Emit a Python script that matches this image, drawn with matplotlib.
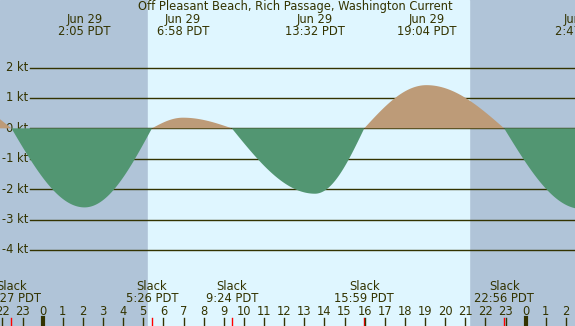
import numpy as np
from matplotlib import pyplot as plt
import matplotlib.transforms as mtransforms

# current events (hours from midnight Jun 29, speed in knots)
ev_time = [-5.7, -1.55, 2.08, 5.43, 6.97, 9.40, 13.53, 15.98, 19.07, 22.93, 26.78]
ev_speed = [1.4, 0.0, -2.6, 0.0, 0.35, 0.0, -2.15, 0.0, 1.42, 0.0, -2.65]

max_time = [2.08, 6.97, 13.53, 19.07, 26.78]
max_label = ["2:05 PDT", "6:58 PDT", "13:32 PDT", "19:04 PDT", "2:47 PDT"]
slack_time = [-1.55, 5.43, 9.40, 15.98, 22.93]
slack_label = ["22:27 PDT", "5:26 PDT", "9:24 PDT", "15:59 PDT", "22:56 PDT"]
kt_levels = [2, 1, 0, -1, -2, -3, -4]
sunrise, sunset = 5.23, 21.18

title = "Off Pleasant Beach, Rich Passage, Washington Current"

dark_bg = "#b0c4d8"
light_bg = "#dff6ff"
ebb_col = "#529672"
flood_col = "#bd9b78"
ink = "#333300"
fs = 8.3

# quarter-sine shape between slack and max current
t = np.linspace(-2.2, 26.6, 2000)
v = np.zeros_like(t)
for i in range(len(ev_time) - 1):
    t0, t1 = ev_time[i], ev_time[i + 1]
    m = (t >= t0) & (t <= t1)
    f = (t[m] - t0) / (t1 - t0)
    if ev_speed[i] == 0:
        v[m] = ev_speed[i + 1] * np.sin(np.pi / 2 * f)
    else:
        v[m] = ev_speed[i] * np.cos(np.pi / 2 * f)

fig = plt.figure(figsize=(5.75, 3.26), dpi=100)
ax = fig.add_axes([0, 0, 1, 1])
ax.set_xlim(-2.12, 26.45)
ax.set_ylim(-6.50, 4.22)
ax.axis("off")
ax.add_patch(plt.Rectangle((0, 0), 1, 1, transform=ax.transAxes, color=dark_bg, zorder=0))
ax.axvspan(sunrise, sunset, color=light_bg, zorder=0.5)

for k in kt_levels:
    ax.plot([-0.63, 27], [k, k], color=ink, lw=1, zorder=1)
    ax.text(-0.73, k, "%d kt" % k, ha="right", va="center", fontsize=fs, color=ink, zorder=1)

ax.fill_between(t, v, 0, where=v >= 0, interpolate=True, color=flood_col, lw=0, zorder=2)
ax.fill_between(t, v, 0, where=v <= 0, interpolate=True, color=ebb_col, lw=0, zorder=2)

tr = mtransforms.blended_transform_factory(ax.transData, ax.transAxes)
ax.text(0.513, 0.979, title, transform=fig.transFigure, ha="center", va="center",
        fontsize=fs, color=ink)
for x, lab in zip(max_time, max_label):
    ax.text(x, 0.939, "Jun 29", transform=tr, ha="center", va="center", fontsize=fs, color=ink)
    ax.text(x, 0.903, lab, transform=tr, ha="center", va="center", fontsize=fs, color=ink)
for x, lab in zip(slack_time, slack_label):
    ax.text(x, 0.120, "Slack", transform=tr, ha="center", va="center", fontsize=fs, color=ink)
    ax.text(x, 0.084, lab, transform=tr, ha="center", va="center", fontsize=fs, color=ink)
    ax.plot([x, x], [0, 0.0245], transform=tr, color="red", lw=1)

for h in range(-2, 27):
    ax.text(h, 0.045, str(h % 24), transform=tr, ha="center", va="center", fontsize=fs, color=ink)
    ax.plot([h, h], [0, 0.0245], transform=tr, color=ink, lw=3 if h % 24 == 0 else 1)

fig.savefig("out.png", dpi=100)
